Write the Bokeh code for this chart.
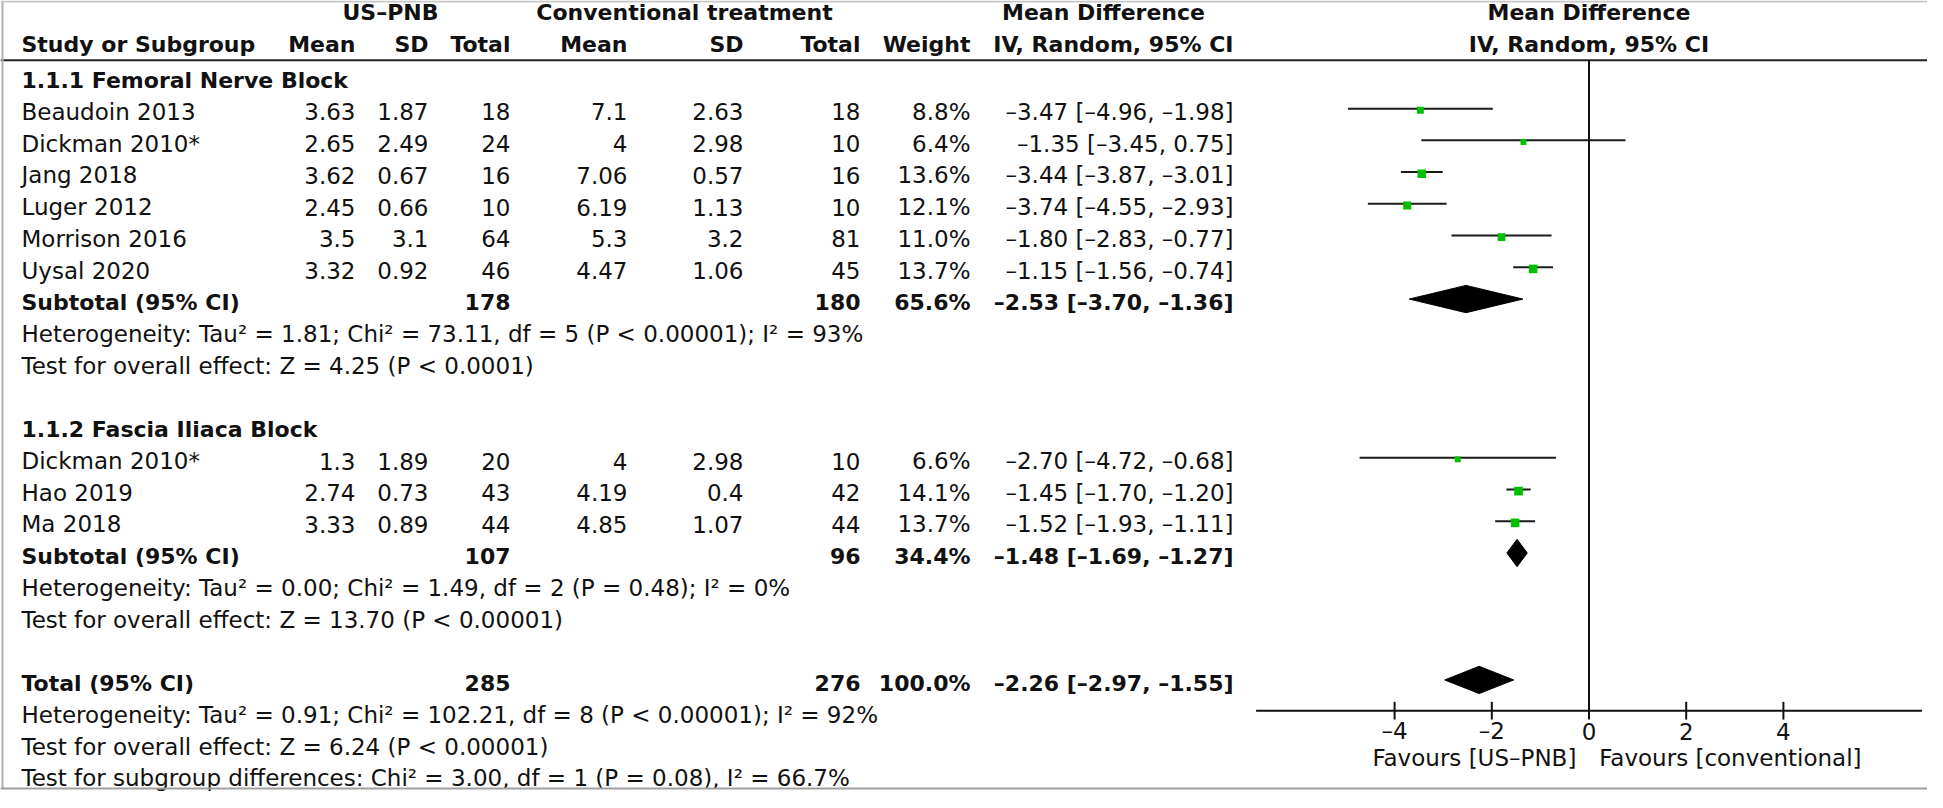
from bokeh.plotting import figure
from bokeh.models import Range1d
from bokeh.core.properties import value
from bokeh.embed import file_html
from bokeh.resources import INLINE

# ---------------- data ----------------
group_names = ["1.1.1 Femoral Nerve Block", "1.1.2 Fascia Iliaca Block"]
studies = ["Beaudoin 2013", "Dickman 2010*", "Jang 2018", "Luger 2012", "Morrison 2016",
           "Uysal 2020", "Dickman 2010*", "Hao 2019", "Ma 2018"]
study_group = [0, 0, 0, 0, 0, 0, 1, 1, 1]
us_mean = [3.63, 2.65, 3.62, 2.45, 3.5, 3.32, 1.3, 2.74, 3.33]
us_sd = [1.87, 2.49, 0.67, 0.66, 3.1, 0.92, 1.89, 0.73, 0.89]
us_n = [18, 24, 16, 10, 64, 46, 20, 43, 44]
cv_mean = [7.1, 4, 7.06, 6.19, 5.3, 4.47, 4, 4.19, 4.85]
cv_sd = [2.63, 2.98, 0.57, 1.13, 3.2, 1.06, 2.98, 0.4, 1.07]
cv_n = [18, 10, 16, 10, 81, 45, 10, 42, 44]
weight = [8.8, 6.4, 13.6, 12.1, 11.0, 13.7, 6.6, 14.1, 13.7]
md = [-3.47, -1.35, -3.44, -3.74, -1.80, -1.15, -2.70, -1.45, -1.52]
md_lo = [-4.96, -3.45, -3.87, -4.55, -2.83, -1.56, -4.72, -1.70, -1.93]
md_hi = [-1.98, 0.75, -3.01, -2.93, -0.77, -0.74, -0.68, -1.20, -1.11]

sub_us_n = [178, 107]
sub_cv_n = [180, 96]
sub_weight = [65.6, 34.4]
sub_md = [-2.53, -1.48]
sub_lo = [-3.70, -1.69]
sub_hi = [-1.36, -1.27]
sub_het = ["Heterogeneity: Tau\u00b2 = 1.81; Chi\u00b2 = 73.11, df = 5 (P < 0.00001); I\u00b2 = 93%",
           "Heterogeneity: Tau\u00b2 = 0.00; Chi\u00b2 = 1.49, df = 2 (P = 0.48); I\u00b2 = 0%"]
sub_test = ["Test for overall effect: Z = 4.25 (P < 0.0001)",
            "Test for overall effect: Z = 13.70 (P < 0.00001)"]

total_us_n = 285
total_cv_n = 276
total_weight = 100.0
total_md = -2.26
total_lo = -2.97
total_hi = -1.55
total_notes = ["Heterogeneity: Tau\u00b2 = 0.91; Chi\u00b2 = 102.21, df = 8 (P < 0.00001); I\u00b2 = 92%",
               "Test for overall effect: Z = 6.24 (P < 0.00001)",
               "Test for subgroup differences: Chi\u00b2 = 3.00, df = 1 (P = 0.08), I\u00b2 = 66.7%"]

xticks = [-4, -2, 0, 2, 4]
favours = ["Favours [US-PNB]", "Favours [conventional]"]

# ---------------- helpers ----------------
FONT = "DejaVu Sans"
FS = "23px"
FSB = "22px"
DASH = "\u2013"
INK = "#111111"


def num(v):
    return f"{v:g}"


def ci(m, lo, hi):
    return f"{m:.2f} [{lo:.2f}, {hi:.2f}]".replace("-", DASH)


def pct(w):
    return f"{w:.1f}%"


# row layout
rows_study, rows_header, rows_sub, rows_het, rows_test = [], [], [], [], []
r = 0
for g in range(len(group_names)):
    rows_header.append(r)
    r += 1
    for sg in study_group:
        if sg == g:
            rows_study.append(r)
            r += 1
    rows_sub.append(r)
    rows_het.append(r + 1)
    rows_test.append(r + 2)
    r += 4
row_total = r
rows_total_notes = [r + 1, r + 2, r + 3]

W = 1927
H = 792
S = 0.9857         # slight vertical squeeze so the page fits
TOP = 3.5          # reference pixel shown at the top edge
ROW0 = 81.0
ROWH = 32.2


def Y(px):
    """reference-pixel y -> row units"""
    return (px - ROW0) / ROWH


TXT_OFF = 3.3 / ROWH   # text centre sits slightly below the row centre

ZERO_PX = 1588.5
UNIT_PX = 48.6

p = figure(width=W, height=H, output_backend="svg", toolbar_location=None,
           x_range=Range1d(0, W), y_range=Range1d(Y(TOP + H / S), Y(TOP)),
           x_axis_type=None, y_axis_type=None, min_border=0)
p.extra_x_ranges = {"md": Range1d(-ZERO_PX / UNIT_PX, (W - ZERO_PX) / UNIT_PX)}
p.outline_line_color = None
p.xgrid.visible = False
p.ygrid.visible = False


def txt(xs, ys, texts, align, bold=False, rng="default", off=TXT_OFF):
    p.text(x=xs, y=[yy + off for yy in ys], text=texts, text_align=align,
           text_baseline="middle", text_font=value(FONT),
           text_font_size=FSB if bold else FS,
           text_font_style="bold" if bold else "normal", text_color=INK, x_range_name=rng)


COL_LABEL = 21
COL = {"m1": 355, "s1": 428, "n1": 510, "m2": 627, "s2": 743, "n2": 860, "w": 970, "ci": 1233}
HR1 = Y(16.0)
HR2 = Y(48.5)

# ---- table headers ----
txt([390], [HR1], ["US\u2013PNB"], "center", True, off=0)
txt([684], [HR1], ["Conventional treatment"], "center", True, off=0)
txt([1103], [HR1], ["Mean Difference"], "center", True, off=0)
txt([COL_LABEL], [HR2], ["Study or Subgroup"], "left", True, off=0)
txt([COL["m1"], COL["s1"], COL["n1"], COL["m2"], COL["s2"], COL["n2"], COL["w"], COL["ci"]],
    [HR2] * 8, ["Mean", "SD", "Total", "Mean", "SD", "Total", "Weight", "IV, Random, 95% CI"],
    "right", True, off=0)
txt([0, 0], [HR1, HR2], ["Mean Difference", "IV, Random, 95% CI"], "center", True, rng="md", off=0)

line_row = Y(64)
p.segment(x0=[0], y0=[line_row], x1=[W], y1=[line_row], line_color="#222222", line_width=2)

# ---- group headers ----
txt([COL_LABEL] * len(rows_header), rows_header, group_names, "left", True)

# ---- study rows ----
n = len(studies)
txt([COL_LABEL] * n, rows_study, studies, "left")
txt([COL["m1"]] * n, rows_study, [num(v) for v in us_mean], "right")
txt([COL["s1"]] * n, rows_study, [num(v) for v in us_sd], "right")
txt([COL["n1"]] * n, rows_study, [num(v) for v in us_n], "right")
txt([COL["m2"]] * n, rows_study, [num(v) for v in cv_mean], "right")
txt([COL["s2"]] * n, rows_study, [num(v) for v in cv_sd], "right")
txt([COL["n2"]] * n, rows_study, [num(v) for v in cv_n], "right")
txt([COL["w"]] * n, rows_study, [pct(v) for v in weight], "right")
txt([COL["ci"]] * n, rows_study, [ci(a, b, c) for a, b, c in zip(md, md_lo, md_hi)], "right")

# ---- subtotals ----
txt([COL_LABEL] * 2, rows_sub, ["Subtotal (95% CI)"] * 2, "left", True)
txt([COL["n1"]] * 2, rows_sub, [num(v) for v in sub_us_n], "right", True)
txt([COL["n2"]] * 2, rows_sub, [num(v) for v in sub_cv_n], "right", True)
txt([COL["w"]] * 2, rows_sub, [pct(v) for v in sub_weight], "right", True)
txt([COL["ci"]] * 2, rows_sub, [ci(a, b, c) for a, b, c in zip(sub_md, sub_lo, sub_hi)], "right", True)
txt([COL_LABEL] * 2, rows_het, sub_het, "left")
txt([COL_LABEL] * 2, rows_test, sub_test, "left")

# ---- total ----
txt([COL_LABEL], [row_total], ["Total (95% CI)"], "left", True)
txt([COL["n1"]], [row_total], [num(total_us_n)], "right", True)
txt([COL["n2"]], [row_total], [num(total_cv_n)], "right", True)
txt([COL["w"]], [row_total], [pct(total_weight)], "right", True)
txt([COL["ci"]], [row_total], [ci(total_md, total_lo, total_hi)], "right", True)
txt([COL_LABEL] * 3, rows_total_notes, total_notes, "left")

# ---- forest ----
AXIS_ROW = Y(724)
p.segment(x0=[0], y0=[line_row], x1=[0], y1=[AXIS_ROW], line_color=INK, line_width=2,
          x_range_name="md")
p.segment(x0=md_lo, y0=rows_study, x1=md_hi, y1=rows_study, line_color="#1a1a1a", line_width=2,
          x_range_name="md")
sizes = [2.32 * (w ** 0.5) for w in weight]
p.scatter(x=md, y=[rr + 0.05 for rr in rows_study], size=sizes, marker="square",
          fill_color="#00c000", line_color=None, x_range_name="md")

DH = 0.43
d_rows = rows_sub + [row_total]
d_md = sub_md + [total_md]
d_lo = sub_lo + [total_lo]
d_hi = sub_hi + [total_hi]
p.patches(xs=[[lo, m, hi, m] for m, lo, hi in zip(d_md, d_lo, d_hi)],
          ys=[[rr, rr - DH, rr, rr + DH] for rr in d_rows],
          fill_color="black", line_color="black", line_width=1, x_range_name="md")

# ---- x axis of the forest (drawn with the md scale) ----
AX_LO, AX_HI = -6.85, 6.85
p.segment(x0=[AX_LO], y0=[AXIS_ROW], x1=[AX_HI], y1=[AXIS_ROW], line_color=INK, line_width=2,
          x_range_name="md")
p.segment(x0=xticks, y0=[Y(715)] * len(xticks), x1=xticks, y1=[Y(733)] * len(xticks),
          line_color=INK, line_width=2, x_range_name="md")
txt(xticks, [Y(745)] * len(xticks), [(DASH + str(abs(t))) if t < 0 else str(t) for t in xticks],
    "center", rng="md", off=0)
txt([-0.26], [Y(771.5)], [favours[0].replace("-", DASH)], "right", rng="md", off=0)
txt([0.21], [Y(771.5)], [favours[1]], "left", rng="md", off=0)

# ---- scan border ----
p.segment(x0=[2], y0=[Y(TOP)], x1=[2], y1=[Y(803)], line_color="#b0b0b0", line_width=2)
p.segment(x0=[0], y0=[Y(TOP + 1)], x1=[W], y1=[Y(TOP + 1)], line_color="#c8c8c8", line_width=2)
p.segment(x0=[0], y0=[Y(803)], x1=[W], y1=[Y(803)], line_color="#a0a0a0", line_width=2)

open("out.html", "w").write(file_html(p, INLINE))
